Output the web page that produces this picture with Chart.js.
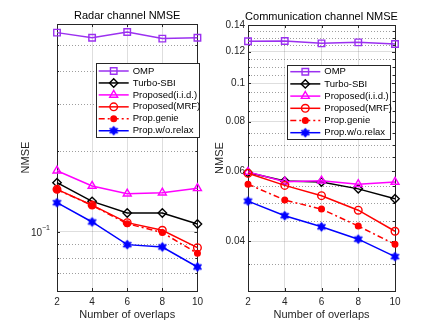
<!DOCTYPE html>
<html><head><meta charset="utf-8">
<script src="https://cdn.jsdelivr.net/npm/chart.js@4/dist/chart.umd.min.js"></script>
<style>
html,body{margin:0;padding:0;background:#fff;}
#wrap{position:relative;width:436px;height:327px;overflow:hidden;background:#fff;}
canvas{position:absolute;top:0;}
</style></head><body>
<div id="wrap">
<canvas id="c1" width="208" height="327" style="left:0px"></canvas>
<canvas id="c2" width="228" height="327" style="left:208px"></canvas>
</div>
<script>
// ---------- data ----------
const overlaps = [2, 4, 6, 8, 10];
const seriesNames = ['OMP', 'Turbo-SBI', 'Proposed(i.i.d.)', 'Proposed(MRF)', 'Prop.genie', 'Prop.w/o.relax'];

const radarOMP    = [0.557, 0.533, 0.560, 0.529, 0.533];
const radarTurbo  = [0.1527, 0.1300, 0.1176, 0.1176, 0.1069];
const radarIID    = [0.1693, 0.1484, 0.1389, 0.1401, 0.1455];
const radarMRF    = [0.1442, 0.1259, 0.1082, 0.1013, 0.0872];
const radarGenie  = [0.1440, 0.1255, 0.1072, 0.0993, 0.0830];
const radarRelax  = [0.1285, 0.1088, 0.0895, 0.0877, 0.0738];

const commOMP     = [0.1274, 0.1276, 0.1259, 0.1266, 0.1254];
const commTurbo   = [0.0596, 0.0567, 0.0564, 0.0542, 0.0512];
const commIID     = [0.0598, 0.0565, 0.0568, 0.0557, 0.0564];
const commMRF     = [0.0593, 0.0553, 0.0521, 0.0479, 0.0424];
const commGenie   = [0.0557, 0.0508, 0.0482, 0.0437, 0.0393];
const commRelax   = [0.0505, 0.0464, 0.0435, 0.0405, 0.0366];

const xTicks = [2, 4, 6, 8, 10];
const radarYTicks = [0.06, 0.07, 0.08, 0.09, 0.1, 0.2, 0.3, 0.4, 0.5, 0.6];
const radarYMajor = [0.1];
const radarYLabels = [['10', '\u22121']];
const commYTicks = [0.03, 0.035, 0.04, 0.045, 0.05, 0.055, 0.06, 0.065, 0.07, 0.075, 0.08, 0.085,
                    0.09, 0.095, 0.1, 0.105, 0.11, 0.115, 0.12, 0.125, 0.13, 0.135, 0.14];
const commYMajor = [0.04, 0.06, 0.08, 0.1, 0.12, 0.14];
const commYLabels = [['0.04'], ['0.06'], ['0.08'], ['0.1'], ['0.12'], ['0.14']];

// ---------- styles ----------
const FONT = 'Liberation Sans, Arial, Helvetica, sans-serif';
Chart.defaults.font.family = FONT;
Chart.defaults.color = '#262626';

function hexagram(color, r) {
  const c = document.createElement('canvas');
  const s = Math.ceil(2 * r + 3);
  c.width = s; c.height = s;
  const g = c.getContext('2d');
  const cx = s / 2, cy = s / 2;
  g.fillStyle = color; g.strokeStyle = color; g.lineWidth = 1;
  g.beginPath();
  for (let k = 0; k < 12; k++) {
    const a = -Math.PI / 2 + k * Math.PI / 6;
    const rr = (k % 2 === 0) ? r : r / Math.sqrt(3);
    g.lineTo(cx + rr * Math.cos(a), cy + rr * Math.sin(a));
  }
  g.closePath(); g.fill(); g.stroke();
  return c;
}
const star = hexagram('#0000ff', 4.6);

const seriesStyles = [
  {color: '#9b30f0', pointStyle: 'rect', radius: 4.6, fill: 'rgba(0,0,0,0)', dash: []},
  {color: '#000000', pointStyle: 'rectRot', radius: 4.2, fill: 'rgba(0,0,0,0)', dash: []},
  {color: '#ff00ff', pointStyle: 'triangle', radius: 4.6, fill: 'rgba(0,0,0,0)', dash: []},
  {color: '#ff0000', pointStyle: 'circle', radius: 3.8, fill: 'rgba(0,0,0,0)', dash: []},
  {color: '#ff0000', pointStyle: 'circle', radius: 2.8, fill: '#ff0000', dash: [6, 3, 2, 3]},
  {color: '#0000ff', pointStyle: star, radius: 4.6, fill: '#0000ff', dash: []}
];

function makeDatasets(seriesList) {
  return seriesList.map((vals, i) => {
    const st = seriesStyles[i];
    return {
      label: seriesNames[i],
      data: overlaps.map((x, j) => ({x: x, y: vals[j]})),
      borderColor: st.color,
      backgroundColor: st.color,
      borderWidth: 1.5,
      borderDash: st.dash,
      pointStyle: st.pointStyle,
      pointRadius: st.radius,
      pointBorderWidth: 1.4,
      pointBorderColor: st.color,
      pointBackgroundColor: st.fill,
      fill: false,
      tension: 0,
      clip: false,
      order: seriesList.length - 1 - i
    };
  });
}

const near = (a, b) => Math.abs(a - b) < 1e-9;
const MAJOR_GRID = 'rgba(0,0,0,0.13)';
const MINOR_GRID = 'rgba(0,0,0,0.38)';

const framePlugin = {
  id: 'frame',
  beforeDatasetsDraw(chart, args, opts) {
    const {ctx, chartArea: a} = chart;
    const xs = chart.scales.x, ys = chart.scales.y;
    ctx.save();
    // minor dotted grid
    ctx.strokeStyle = MINOR_GRID;
    ctx.lineWidth = 1;
    ctx.setLineDash([1, 2]);
    ctx.beginPath();
    ys.ticks.forEach(t => {
      if (opts.majors.some(m => near(m, t.value))) return;
      const p = Math.round(ys.getPixelForValue(t.value)) + 0.5;
      ctx.moveTo(a.left, p); ctx.lineTo(a.right, p);
    });
    ctx.stroke();
    ctx.setLineDash([]);
    // tick marks and box
    ctx.strokeStyle = '#262626';
    ctx.beginPath();
    ys.ticks.forEach(t => {
      const p = Math.round(ys.getPixelForValue(t.value)) + 0.5;
      const L = opts.majors.some(m => near(m, t.value)) ? 3 : 2;
      ctx.moveTo(a.left, p); ctx.lineTo(a.left + L, p);
      ctx.moveTo(a.right, p); ctx.lineTo(a.right - L, p);
    });
    xs.ticks.forEach(t => {
      const p = Math.round(xs.getPixelForValue(t.value)) + 0.5;
      ctx.moveTo(p, a.bottom); ctx.lineTo(p, a.bottom - 3);
      ctx.moveTo(p, a.top); ctx.lineTo(p, a.top + 3);
    });
    ctx.stroke();
    ctx.strokeRect(Math.round(a.left) + 0.5, Math.round(a.top) + 0.5,
                   Math.round(a.right) - Math.round(a.left), Math.round(a.bottom) - Math.round(a.top));
    // y tick labels (with optional superscript)
    ctx.fillStyle = '#262626';
    ctx.textBaseline = 'middle';
    opts.majors.forEach((m, k) => {
      const lab = opts.labels[k];
      const p = ys.getPixelForValue(m);
      const xr = a.left - opts.tickPad;
      if (lab.length === 1) {
        ctx.font = '10px ' + FONT;
        ctx.textAlign = 'right';
        ctx.fillText(lab[0], xr, p);
      } else {
        ctx.font = '7px ' + FONT;
        const supW = ctx.measureText(lab[1]).width;
        ctx.textAlign = 'left';
        ctx.fillText(lab[1], xr - supW, p - 4);
        ctx.font = '10px ' + FONT;
        ctx.textAlign = 'right';
        ctx.fillText(lab[0], xr - supW, p + 1);
      }
    });
    // title centered over plot area
    ctx.fillStyle = '#000';
    ctx.font = '11px ' + FONT;
    ctx.textAlign = 'center';
    ctx.fillText(opts.title, (a.left + a.right) / 2, opts.titleY);
    ctx.restore();
  },
  afterDraw(chart, args, opts) {
    const L = opts.legend;
    const ctx = chart.ctx;
    ctx.save();
    ctx.fillStyle = '#fff';
    ctx.fillRect(L.x, L.y, L.w, L.h);
    ctx.strokeStyle = '#262626';
    ctx.lineWidth = 1;
    ctx.strokeRect(Math.round(L.x) + 0.5, Math.round(L.y) + 0.5, Math.round(L.w), Math.round(L.h));
    chart.data.datasets.forEach((ds, i) => {
      const cy = L.y + L.first + i * L.step;
      ctx.strokeStyle = ds.borderColor;
      ctx.lineWidth = ds.borderWidth;
      ctx.setLineDash(ds.borderDash || []);
      ctx.beginPath(); ctx.moveTo(L.x + 3, cy); ctx.lineTo(L.x + 33, cy); ctx.stroke();
      ctx.setLineDash([]);
      ctx.fillStyle = ds.pointBackgroundColor;
      ctx.strokeStyle = ds.pointBorderColor;
      ctx.lineWidth = ds.pointBorderWidth;
      Chart.helpers.drawPoint(ctx, {pointStyle: ds.pointStyle, radius: ds.pointRadius, rotation: 0,
                                    borderWidth: ds.pointBorderWidth}, L.x + 18, cy);
      ctx.fillStyle = '#000';
      ctx.font = '9.5px ' + FONT;
      ctx.textBaseline = 'middle';
      ctx.textAlign = 'left';
      ctx.fillText(seriesNames[i], L.x + 37, cy);
    });
    ctx.restore();
  }
};

function makeChart(id, cfg) {
  return new Chart(document.getElementById(id), {
    type: 'line',
    data: {datasets: makeDatasets(cfg.series)},
    options: {
      responsive: false,
      animation: false,
      devicePixelRatio: 1,
      events: [],
      layout: {padding: {left: 0, right: cfg.padRight, top: cfg.padTop, bottom: 0}},
      plugins: {
        legend: {display: false},
        tooltip: {enabled: false},
        title: {display: false},
        frame: {legend: cfg.legend, majors: cfg.yMajor, labels: cfg.yLabels, tickPad: cfg.yTickPad,
                title: cfg.title, titleY: cfg.titleY}
      },
      scales: {
        x: {
          type: 'linear', min: 2, max: 10,
          afterBuildTicks: s => { s.ticks = xTicks.map(v => ({value: v})); },
          ticks: {callback: v => String(v), font: {size: 10}, color: '#262626', padding: 5,
                  autoSkip: false, maxRotation: 0, minRotation: 0},
          grid: {drawTicks: false, color: MAJOR_GRID, lineWidth: 1},
          border: {display: false},
          title: {display: true, text: 'Number of overlaps', font: {size: 11}, color: '#262626',
                  padding: {top: 0, bottom: 5.4}},
          afterFit: s => { s.height = 36; }
        },
        y: {
          type: 'logarithmic', min: cfg.yMin, max: cfg.yMax, bounds: 'data',
          afterBuildTicks: s => { s.ticks = cfg.yTicks.map(v => ({value: v})); },
          ticks: {callback: () => '', font: {size: 10}, padding: 0, autoSkip: false},
          grid: {
            drawTicks: false, lineWidth: 1,
            color: c => (cfg.yMajor.some(m => near(m, c.tick.value)) ? MAJOR_GRID : 'rgba(0,0,0,0)')
          },
          border: {display: false},
          title: {display: true, text: 'NMSE', font: {size: 11}, color: '#262626',
                  padding: {top: cfg.yTitlePad, bottom: 0}},
          afterFit: s => { s.width = cfg.yWidth; }
        }
      }
    },
    plugins: [framePlugin]
  });
}

makeChart('c1', {
  series: [radarOMP, radarTurbo, radarIID, radarMRF, radarGenie, radarRelax],
  title: 'Radar channel NMSE', titleY: 16, padTop: 24,
  padRight: 6, yWidth: 57, yTitlePad: 19.4, yTickPad: 7,
  yMin: 0.06, yMax: 0.6, yTicks: radarYTicks, yMajor: radarYMajor, yLabels: radarYLabels,
  legend: {x: 95.7, y: 63.3, w: 103.3, h: 74, first: 7.7, step: 11.95}
});

makeChart('c2', {
  series: [commOMP, commTurbo, commIID, commMRF, commGenie, commRelax],
  title: 'Communication channel NMSE', titleY: 16.5, padTop: 25,
  padRight: 41, yWidth: 40, yTitlePad: 5.4, yTickPad: 3,
  yMin: 0.03, yMax: 0.14, yTicks: commYTicks, yMajor: commYMajor, yLabels: commYLabels,
  legend: {x: 79.3, y: 65, w: 102.7, h: 74.3, first: 6.7, step: 12.2}
});
</script>
</body></html>
